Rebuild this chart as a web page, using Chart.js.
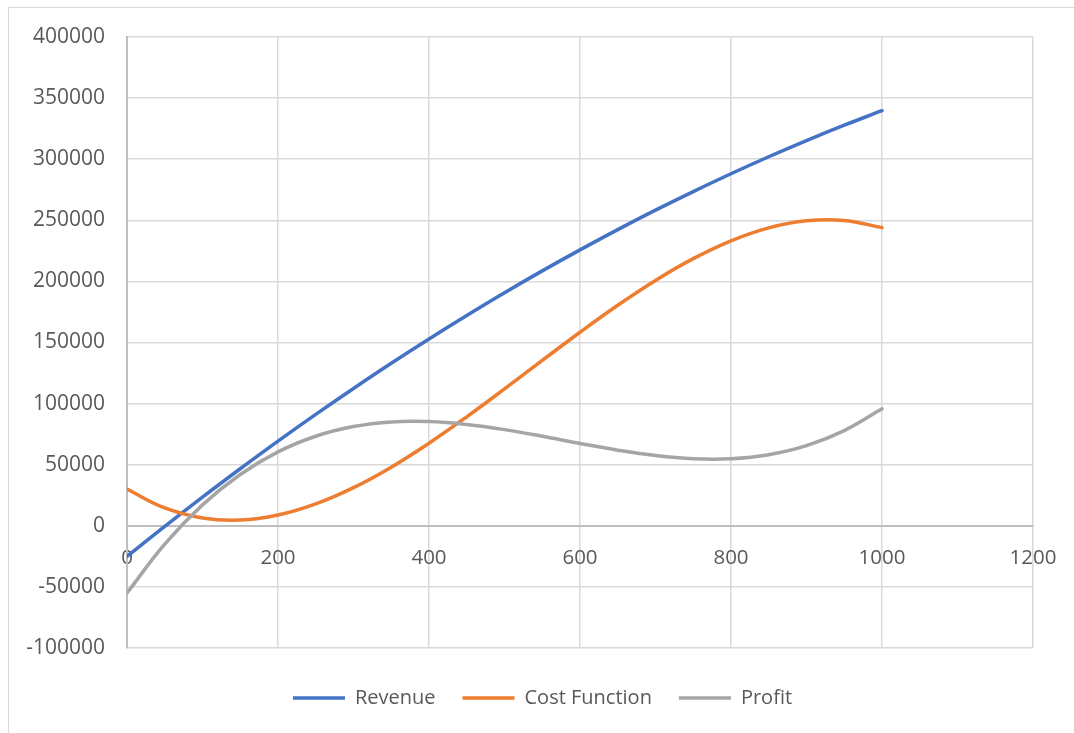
<!DOCTYPE html>
<html>
<head>
<meta charset="utf-8">
<script src="https://cdn.jsdelivr.net/npm/chart.js@4.4.0/dist/chart.umd.min.js"></script>
<style>
  html, body { margin: 0; padding: 0; background: #ffffff; }
  #wrap { position: relative; width: 1074px; height: 733px; overflow: hidden; }
  #frame {
    position: absolute; left: 8px; top: 7px; width: 1200px; height: 900px;
    border-top: 1.5px solid #D9D9D9; border-left: 1.5px solid #D9D9D9;
  }
  canvas { position: absolute; left: 0; top: 0; }
</style>
</head>
<body>
<div id="wrap">
  <div id="frame"></div>
  <canvas id="chart" width="1074" height="733"></canvas>
</div>
<script>
// Units produced (x values)
const units = [0, 50, 100, 150, 200, 250, 300, 350, 400, 450, 500,
               550, 600, 650, 700, 750, 800, 850, 900, 950, 1000];

// Series values
const revenue = [-25000, -400, 23500, 46700, 69300, 91200, 112400, 133000, 152900, 172100, 190700,
                 208600, 225800, 242400, 258300, 273500, 288100, 302000, 315200, 327800, 339700];
const costFunction = [30000, 14600, 6400, 4700, 8800, 17900, 31200, 48000, 67600, 89200, 112000,
                      135300, 158400, 180500, 200800, 218600, 233200, 243800, 249600, 249900, 244000];
const profit = [-55000, -15000, 17100, 42000, 60500, 73300, 81200, 85000, 85300, 82900, 78700,
                73300, 67400, 61900, 57500, 54900, 54900, 58200, 65600, 77900, 95700];

// Axis ranges and tick steps
const xAxisRange = [0, 1200];
const xAxisStep = 200;
const yAxisRange = [-100000, 400000];
const yAxisStep = 50000;

const seriesNames = ['Revenue', 'Cost Function', 'Profit'];
const seriesColors = ['#4472C4', '#ED7D31', '#A5A5A5'];

const textColor = '#595959';
const gridColor = '#D9D9D9';
const axisColor = '#BFBFBF';
const fontFamily = '"Open Sans", "Segoe UI", sans-serif';

function toPoints(values) {
  return units.map((u, i) => ({ x: u, y: values[i] }));
}

const seriesValues = [revenue, costFunction, profit];
const datasets = seriesValues.map((vals, i) => ({
  label: seriesNames[i],
  data: toPoints(vals),
  borderColor: seriesColors[i],
  backgroundColor: seriesColors[i],
  borderWidth: 3.5,
  borderCapStyle: 'round',
  showLine: true,
  pointRadius: 0,
  pointHoverRadius: 0,
  tension: 0.4,
  fill: false,
  // later series are painted over earlier ones
  order: seriesNames.length - i
}));

new Chart(document.getElementById('chart'), {
  type: 'scatter',
  data: { datasets },
  options: {
    responsive: false,
    animation: false,
    devicePixelRatio: 1,
    layout: { padding: { left: 11, right: 0, top: 37, bottom: 15 } },
    plugins: {
      tooltip: { enabled: false },
      legend: {
        position: 'bottom',
        // empty title block only adds spacing above the legend row
        title: { display: true, text: '', padding: 0, font: { size: 13, lineHeight: 1 } },
        labels: {
          usePointStyle: true,
          pointStyle: 'line',
          pointStyleWidth: 52,
          padding: 27,
          color: textColor,
          font: { family: fontFamily, size: 20 },
          sort: (a, b) => a.datasetIndex - b.datasetIndex
        }
      }
    },
    scales: {
      x: {
        type: 'linear',
        position: { y: 0 },
        min: xAxisRange[0],
        max: xAxisRange[1],
        ticks: {
          stepSize: xAxisStep,
          padding: 17,
          color: textColor,
          font: { family: fontFamily, size: 20.5, lineHeight: 1.5 },
          maxRotation: 0,
          callback: v => String(v)
        },
        grid: { color: gridColor, lineWidth: 1.5, drawTicks: false },
        border: { color: axisColor, width: 2 }
      },
      y: {
        type: 'linear',
        position: 'left',
        min: yAxisRange[0],
        max: yAxisRange[1],
        ticks: {
          stepSize: yAxisStep,
          padding: 22,
          color: textColor,
          font: { family: fontFamily, size: 21 },
          callback: v => String(v)
        },
        grid: { color: gridColor, lineWidth: 1.5, drawTicks: false },
        border: { color: axisColor, width: 2 },
        afterFit: scale => { scale.width = 116; }
      },
      // empty margin strip to the right of the plot
      rightMargin: {
        type: 'linear',
        position: 'right',
        display: true,
        grid: { display: false },
        ticks: { display: false },
        border: { display: false },
        afterFit: scale => { scale.width = 41; }
      }
    }
  }
});
</script>
</body>
</html>
